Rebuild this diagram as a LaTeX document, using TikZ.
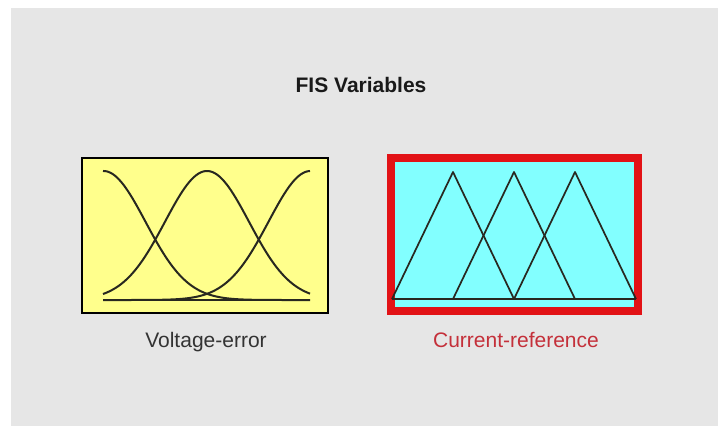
\documentclass[tikz,border=0pt]{standalone}
\usepackage{fontspec}
\setmainfont{Liberation Sans}
\definecolor{panelgray}{RGB}{230,230,230}
\definecolor{fisyellow}{RGB}{255,255,140}
\definecolor{fiscyan}{RGB}{130,255,255}
\definecolor{fisred}{RGB}{226,18,22}
\definecolor{labelred}{RGB}{196,48,58}
\definecolor{curvegray}{RGB}{40,40,32}
\tikzset{
  varbox/.style={inner sep=0pt,outer sep=0pt},
  varlabel/.style={font=\fontsize{21}{25}\selectfont,anchor=base},
  mfline/.style={draw=curvegray,line width=2pt,line join=round},
}
\begin{document}
\begin{tikzpicture}[x=1pt,y=-1pt]
  % page and panel
  \fill[white] (0,0) rectangle (718,426);
  \fill[panelgray] (11,8) rectangle (718,426);
  \useasboundingbox (0,0) rectangle (718,426);
  \node[font=\fontsize{21}{25}\selectfont\bfseries,anchor=base,text=black!90] (title) at (361,92) {FIS Variables};
  % input variable
  \node[varbox,draw=black,line width=2pt,fill=fisyellow,
        minimum width=246pt,minimum height=155pt] (voltbox) at (205,235.5) {};
  \draw[mfline,line width=2.6pt] (103,300) -- (310,300);
  \foreach \c in {103.5,207,310.5}
    \draw[mfline] plot[domain=103:310,samples=90]
      (\x,{300-129*exp(-0.5*((\x-\c)/42)^2)});
  \node[varlabel,text=black!80] (voltlabel) at (206,347) {Voltage-error};
  % output variable
  \node[varbox,draw=fisred,line width=8pt,fill=fiscyan,
        minimum width=247pt,minimum height=153pt] (currbox) at (514.5,234.5) {};
  \draw[mfline,line width=1.7pt] (392,299) -- (636,299);
  \foreach \p in {453,514,575}
    \draw[mfline,line width=1.7pt] (\p-61,299) -- (\p,172) -- (\p+61,299);
  \node[varlabel,text=labelred] (currlabel) at (516,347) {Current-reference};
\end{tikzpicture}
\end{document}
